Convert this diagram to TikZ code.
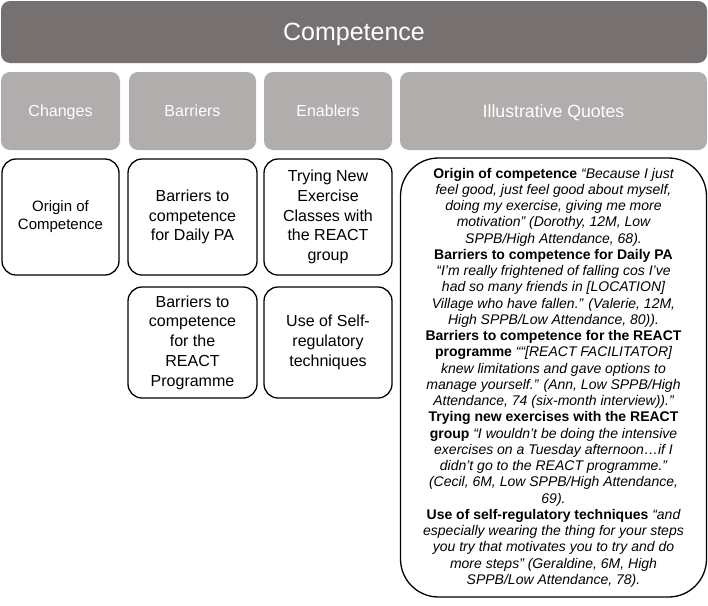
\documentclass[tikz,border=0pt]{standalone}
\usepackage{fontspec}
\setmainfont{Liberation Sans}
\definecolor{topbar}{HTML}{767170}
\definecolor{hdr}{HTML}{B0ADAC}
\newcommand\qhead[1]{\textup{\textbf{#1}}}
\begin{document}
\begin{tikzpicture}[x=1pt,y=-1pt,
  titlebox/.style={fill=topbar, rounded corners=9pt, text=white, font=\fontsize{25}{30}\selectfont, inner sep=0pt, text depth=0pt},
  hdrbox/.style={fill=hdr, rounded corners=9pt, text=white, font=\fontsize{16}{20}\selectfont, inner sep=0pt, minimum height=78pt, text depth=0pt},
  subbox/.style={draw=black, line width=1.3pt, rounded corners=14pt, fill=white, align=center, font=\fontsize{16}{19.8}\selectfont, inner sep=0pt},
  quotebox/.style={draw=black, line width=1.3pt, rounded corners=38pt, fill=white, align=center, font=\fontsize{14}{16.25}\selectfont\itshape, inner sep=0pt}]
\useasboundingbox (0,0) rectangle (708,605);
\node[titlebox, minimum width=706pt, minimum height=62pt] (title) at (354,32) {Competence};
\node[hdrbox, minimum width=119pt] (changes) at (60.5,111) {Changes};
\node[hdrbox, minimum width=127pt] (barriers) at (192.5,111) {Barriers};
\node[hdrbox, minimum width=128pt] (enablers) at (328,111) {Enablers};
\node[hdrbox, minimum width=307pt, font=\fontsize{17.7}{21}\selectfont] (quotes) at (553.5,111) {Illustrative Quotes};
\node[subbox, minimum width=117pt, minimum height=116pt, font=\fontsize{15}{18}\selectfont] (origin) at (60.5,217) {Origin of\\Competence};
\node[subbox, minimum width=129pt, minimum height=116pt] (bdaily) at (192.5,217) {Barriers to\\competence\\for Daily PA};
\node[subbox, minimum width=128pt, minimum height=116pt] (trying) at (328,217) {Trying New\\Exercise\\Classes with\\the REACT\\group};
\node[subbox, minimum width=129pt, minimum height=111pt] (breact) at (192.5,342.5) {Barriers to\\competence\\for the\\REACT\\Programme};
\node[subbox, minimum width=128pt, minimum height=111pt] (selfreg) at (328,342.5) {Use of Self-\\regulatory\\techniques};
\node[quotebox, minimum width=306pt, minimum height=439pt] (quotetext) at (553.5,377.5) {%
\qhead{Origin of competence} “Because I just\\
feel good, just feel good about myself,\\
doing my exercise, giving me more\\
motivation” (Dorothy, 12M, Low\\
SPPB/High Attendance, 68).\\
\qhead{Barriers to competence for Daily PA}\\
“I’m really frightened of falling cos I’ve\\
had so many friends in [LOCATION]\\
Village who have fallen.” (Valerie, 12M,\\
High SPPB/Low Attendance, 80)).\\
\qhead{Barriers to competence for the REACT}\\
\qhead{programme} ““[REACT FACILITATOR]\\
knew limitations and gave options to\\
manage yourself.” (Ann, Low SPPB/High\\
Attendance, 74 (six-month interview)).”\\
\qhead{Trying new exercises with the REACT}\\
\qhead{group} “I wouldn’t be doing the intensive\\
exercises on a Tuesday afternoon…if I\\
didn’t go to the REACT programme.”\\
(Cecil, 6M, Low SPPB/High Attendance,\\
69).\\
\qhead{Use of self-regulatory techniques} “and\\
especially wearing the thing for your steps\\
you try that motivates you to try and do\\
more steps” (Geraldine, 6M, High\\
SPPB/Low Attendance, 78).};
\end{tikzpicture}
\end{document}
